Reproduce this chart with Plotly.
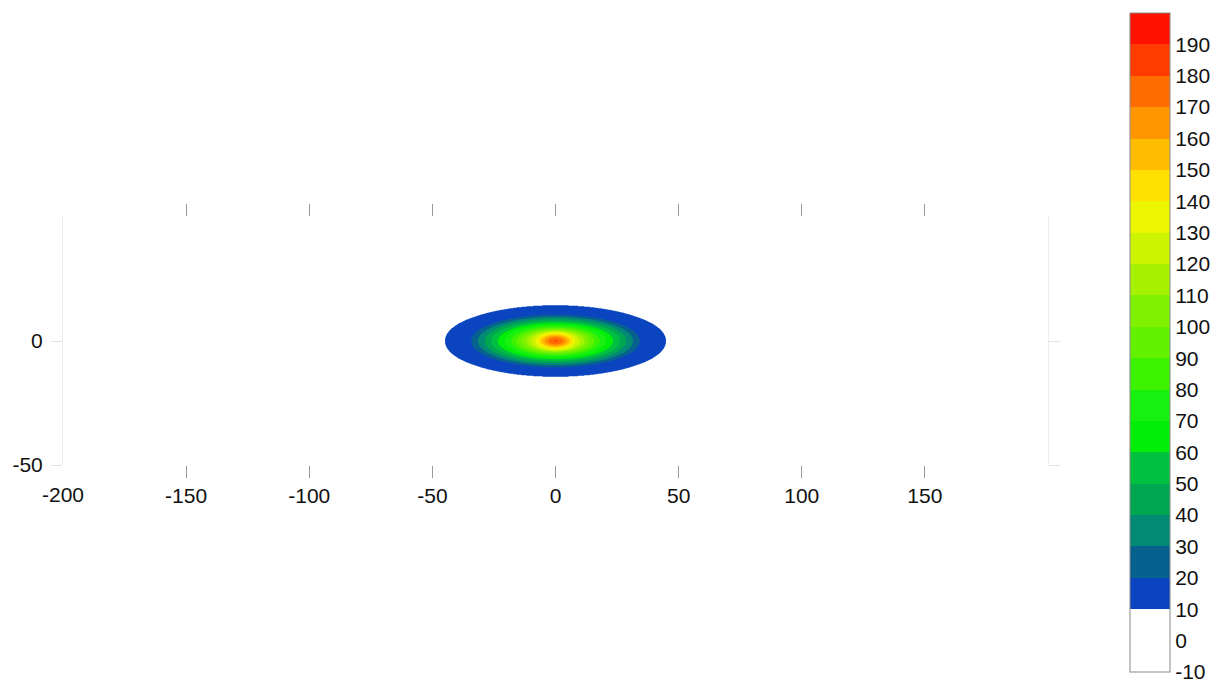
import numpy as np
import plotly.graph_objects as go

# Contour level values and where each one crosses the major (x) and minor (y) axes
level_val = [11, 20, 30, 40, 50, 60, 70, 80, 90, 100, 110, 120, 130, 140, 150, 160, 170, 183]
x_radius = [45.0, 34.2, 31.5, 28.8, 26.1, 23.4, 20.7, 18.0, 15.8, 13.5, 11.7, 9.9, 8.1, 6.8, 5.8, 4.5, 3.2, 0.0]
y_radius = [14.5, 10.6, 9.7, 8.9, 8.1, 7.3, 6.6, 5.9, 5.3, 4.8, 4.3, 3.9, 3.5, 3.0, 2.5, 2.0, 1.4, 0.0]

# Contour levels
level_start, level_end, level_step = -10, 200, 10
cb_ticks = list(range(-10, 200, 10))

# Band colours, one per 10-unit band from -10 up to 200
band_colors = [
    "#ffffff", "#ffffff",                        # -10..0, 0..10
    "#0a44bf", "#07618f", "#038a74", "#00a753",  # 10..50
    "#00c040", "#00ee08", "#18f010", "#3cf200",  # 50..90
    "#62f200", "#80f200", "#a6f200", "#cdf400",  # 90..130
    "#eef500", "#ffe000", "#ffbc00", "#ff9600",  # 130..170
    "#ff6c00", "#ff3c00", "#ff1200",             # 170..200
]

# Grid covering the footprint; each point gets the level whose ellipse passes through it
gx = np.linspace(-50, 50, 501)
gy = np.linspace(-17, 17, 171)
X, Y = np.meshgrid(gx, gy)

lv = np.array(level_val, float)
rx = np.array(x_radius)
ry = np.array(y_radius)


def ellipse_measure(v):
    ax = np.maximum(np.interp(v, lv, rx), 1e-9)
    ay = np.maximum(np.interp(v, lv, ry), 1e-9)
    return (X / ax) ** 2 + (Y / ay) ** 2


lo = np.full(X.shape, lv[0])
hi = np.full(X.shape, lv[-1])
for _ in range(40):
    mid = 0.5 * (lo + hi)
    inside = ellipse_measure(mid) <= 1.0
    lo = np.where(inside, mid, lo)
    hi = np.where(inside, hi, mid)
Z = np.where(ellipse_measure(lv[0]) <= 1.0, lo, 0.0)

# Fill colour map for the contour trace (background, bands, above-top)
n = len(band_colors) + 1
stops = ["#ffffff"] + band_colors + [band_colors[-1]]
fill_scale = [[k / n, c] for k, c in enumerate(stops)]

# Stepped colour scale for the colour bar (-10..200)
nb = len(band_colors)
bar_scale = []
for k, c in enumerate(band_colors):
    bar_scale += [[k / nb, c], [(k + 1) / nb, c]]

# Plot-area pixel geometry
W, H = 1221, 687
left, right = 58, 1048
top, bottom = 217, 465
pw, ph = right - left, bottom - top
cb_top, cb_bottom, cb_left = 13, 672, 1130

FONT = dict(family="Arial, 'Liberation Sans', sans-serif", size=21, color="#111111")

fig = go.Figure()
fig.add_trace(go.Contour(
    x=gx, y=gy, z=Z,
    contours=dict(start=level_start, end=level_end, size=level_step,
                  coloring="fill", showlines=False),
    line=dict(width=0, smoothing=1),
    colorscale=fill_scale,
    showscale=False,
    hoverinfo="skip",
))

# Colour bar carrier
fig.add_trace(go.Scatter(
    x=[None], y=[None], mode="markers",
    marker=dict(
        color=[level_start], cmin=level_start, cmax=level_end,
        colorscale=bar_scale, showscale=True,
        colorbar=dict(
            thickness=40, thicknessmode="pixels",
            len=cb_bottom - cb_top, lenmode="pixels",
            x=(cb_left - left) / pw, xanchor="left", xpad=0,
            y=(bottom - (cb_top + cb_bottom) / 2) / ph, yanchor="middle", ypad=0,
            outlinewidth=1, outlinecolor="#8a8a8a",
            tickmode="array", tickvals=cb_ticks,
            ticktext=[str(v) for v in cb_ticks],
            ticks="", ticklabelposition="outside",
            tickfont=FONT,
        ),
    ),
    hoverinfo="skip", showlegend=False,
))

x_ticks = [-150, -100, -50, 0, 50, 100, 150]
fig.update_xaxes(
    range=[-200, 200], tickmode="array", tickvals=x_ticks,
    ticktext=[str(v) for v in x_ticks],
    showgrid=False, zeroline=False, showline=False,
    ticks="outside", ticklen=12, tickwidth=1, tickcolor="#9a9a9a",
    mirror="ticks", tickfont=FONT,
)
y_ticks = [-50, 0]
fig.update_yaxes(
    range=[-50, 50], tickmode="array", tickvals=y_ticks,
    ticktext=[str(v) for v in y_ticks],
    showgrid=False, zeroline=False,
    showline=True, linecolor="#ececec", linewidth=1, mirror="ticks",
    ticks="outside", ticklen=11, tickwidth=1, tickcolor="#e2e2e2",
    ticklabelstandoff=4, tickfont=FONT,
)

# Label for the left end of the x axis
fig.add_annotation(
    x=-200, y=0, xref="x", yref="paper", text="-200", showarrow=False,
    yanchor="top", yshift=-16, font=FONT,
)

fig.update_layout(
    width=W, height=H,
    margin=dict(l=left, r=W - right, t=top, b=H - bottom, pad=0),
    paper_bgcolor="white", plot_bgcolor="white",
    showlegend=False,
)

fig.write_html("out.html")
